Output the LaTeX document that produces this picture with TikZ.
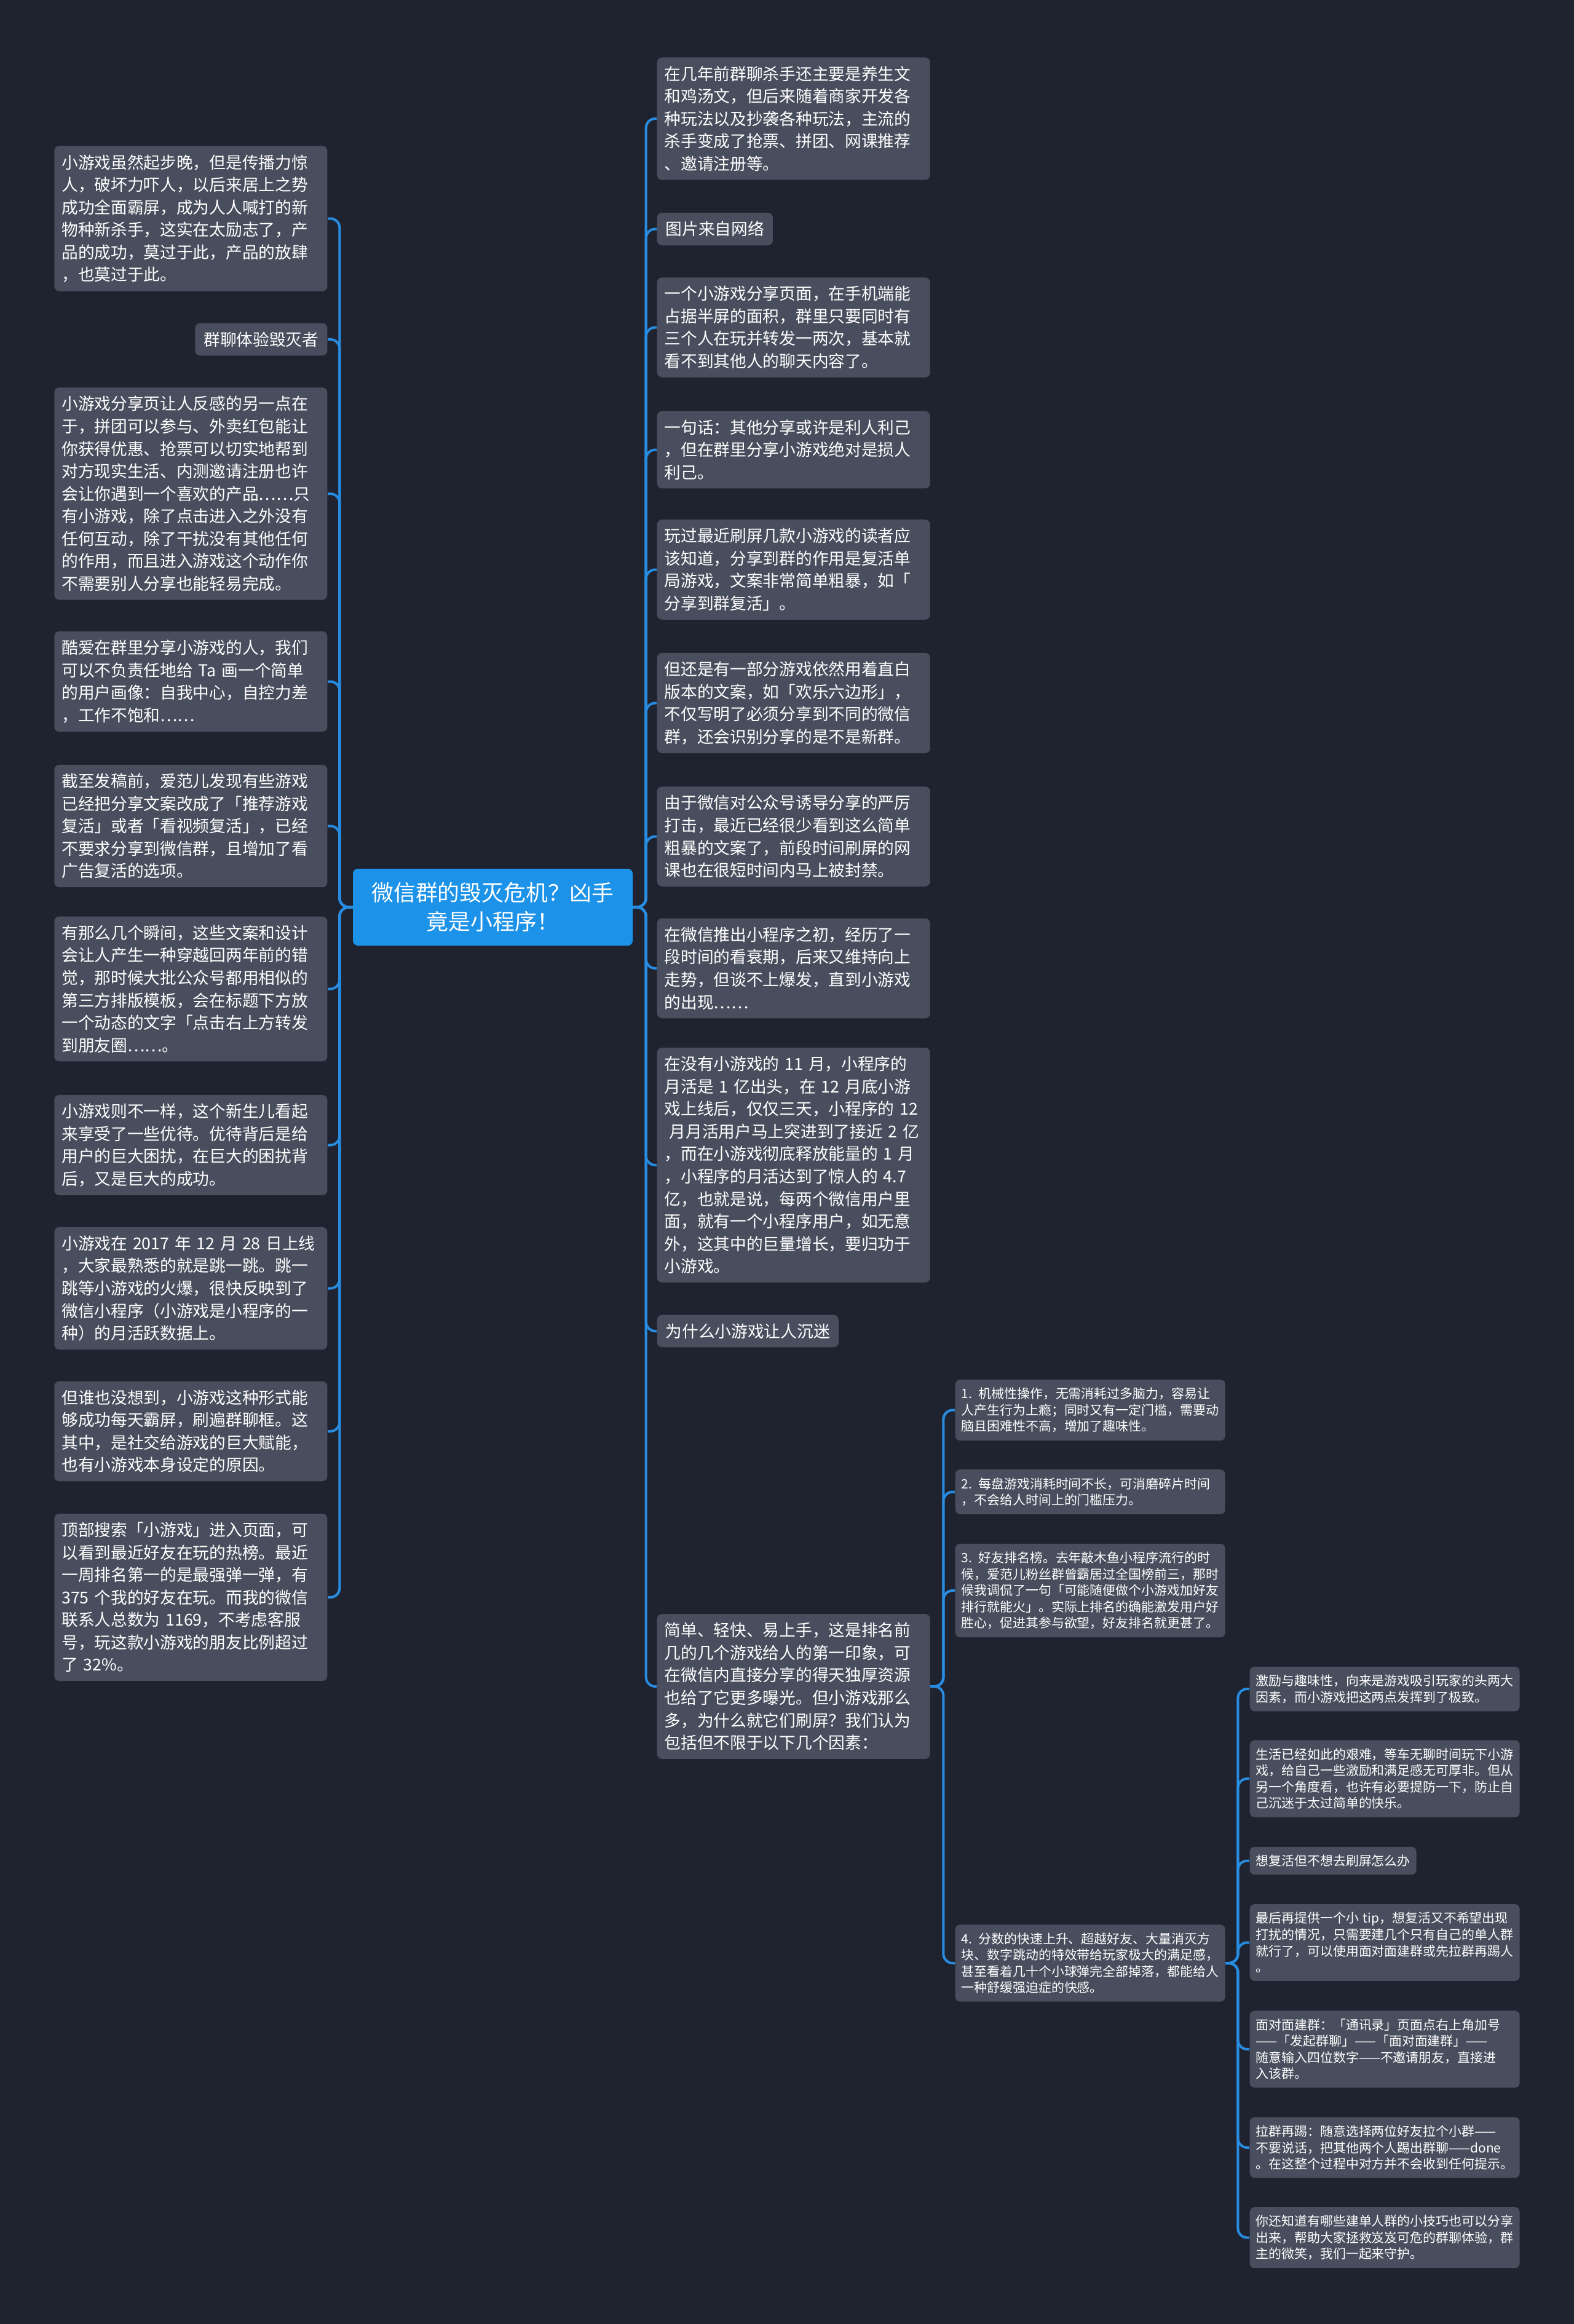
\documentclass[tikz,border=0pt]{standalone}
\usepackage{fontspec}
\setmainfont{Noto Sans CJK SC}
\usepackage{xcolor}

\definecolor{bgnavy}{RGB}{31,35,48}
\definecolor{boxgray}{RGB}{72,78,93}
\definecolor{rootblue}{RGB}{28,146,232}
\definecolor{linkblue}{RGB}{40,140,225}

\begin{document}
\begin{tikzpicture}[
  topic/.style={fill=boxgray,text=white,rounded corners=0.08cm,inner xsep=0.14cm,inner ysep=0.14cm,align=left,font=\fontsize{7.6pt}{10.4pt}\selectfont},
  widetopic/.style={topic,inner xsep=0.12cm,text width=4.2cm},
  subtopic/.style={fill=boxgray,text=white,rounded corners=0.08cm,inner xsep=0.1cm,inner ysep=0.13cm,align=left,font=\fontsize{5.95pt}{7.57pt}\selectfont},
  widesub/.style={subtopic,text width=4.19cm},
  link/.style={draw=linkblue,line width=0.04cm,rounded corners=0.15cm}
]
\fill[bgnavy](0,0)rectangle(25.6,-37.8);
\useasboundingbox(0,0)rectangle(25.6,-37.8);

% centre
\node[fill=rootblue,text=white,rounded corners=0.08cm,align=center,minimum width=4.55cm,minimum height=1.25cm,inner sep=0pt,font=\fontsize{10.2pt}{13.3pt}\selectfont](root)at(8.015,-14.755){微信群的毁灭危机？凶手\\竟是小程序！};

% left branch
\node[widetopic,anchor=east](l1)at(5.33,-3.555){小游戏虽然起步晚，但是传播力惊\\人，破坏力吓人，以后来居上之势\\成功全面霸屏，成为人人喊打的新\\物种新杀手，这实在太励志了，产\\品的成功，莫过于此，产品的放肆\\，也莫过于此。};
\node[topic,anchor=east](l2)at(5.33,-5.52){群聊体验毁灭者};
\node[widetopic,anchor=east](l3)at(5.33,-8.03){小游戏分享页让人反感的另一点在\\于，拼团可以参与、外卖红包能让\\你获得优惠、抢票可以切实地帮到\\对方现实生活、内测邀请注册也许\\会让你遇到一个喜欢的产品……只\\有小游戏，除了点击进入之外没有\\任何互动，除了干扰没有其他任何\\的作用，而且进入游戏这个动作你\\不需要别人分享也能轻易完成。};
\node[widetopic,anchor=east](l4)at(5.33,-11.085){酷爱在群里分享小游戏的人，我们\\可以不负责任地给 Ta 画一个简单\\的用户画像：自我中心，自控力差\\，工作不饱和……};
\node[widetopic,anchor=east](l5)at(5.33,-13.435){截至发稿前，爱范儿发现有些游戏\\已经把分享文案改成了「推荐游戏\\复活」或者「看视频复活」，已经\\不要求分享到微信群，且增加了看\\广告复活的选项。};
\node[widetopic,anchor=east](l6)at(5.33,-16.085){有那么几个瞬间，这些文案和设计\\会让人产生一种穿越回两年前的错\\觉，那时候大批公众号都用相似的\\第三方排版模板，会在标题下方放\\一个动态的文字「点击右上方转发\\到朋友圈……。};
\node[widetopic,anchor=east](l7)at(5.33,-18.625){小游戏则不一样，这个新生儿看起\\来享受了一些优待。优待背后是给\\用户的巨大困扰，在巨大的困扰背\\后，又是巨大的成功。};
\node[widetopic,anchor=east](l8)at(5.33,-20.955){小游戏在 2017 年 12 月 28 日上线\\，大家最熟悉的就是跳一跳。跳一\\跳等小游戏的火爆，很快反映到了\\微信小程序（小游戏是小程序的一\\种）的月活跃数据上。};
\node[widetopic,anchor=east](l9)at(5.33,-23.28){但谁也没想到，小游戏这种形式能\\够成功每天霸屏，刷遍群聊框。这\\其中，是社交给游戏的巨大赋能，\\也有小游戏本身设定的原因。};
\node[widetopic,anchor=east](l10)at(5.33,-25.98){顶部搜索「小游戏」进入页面，可\\以看到最近好友在玩的热榜。最近\\一周排名第一的是最强弹一弹，有\\375 个我的好友在玩。而我的微信\\联系人总数为 1169，不考虑客服\\号，玩这款小游戏的朋友比例超过\\了 32\%。};

% right branch
\node[widetopic,anchor=west](r1)at(10.68,-1.93){在几年前群聊杀手还主要是养生文\\和鸡汤文，但后来随着商家开发各\\种玩法以及抄袭各种玩法，主流的\\杀手变成了抢票、拼团、网课推荐\\、邀请注册等。};
\node[topic,anchor=west](r2)at(10.68,-3.725){图片来自网络};
\node[widetopic,anchor=west](r3)at(10.68,-5.325){一个小游戏分享页面，在手机端能\\占据半屏的面积，群里只要同时有\\三个人在玩并转发一两次，基本就\\看不到其他人的聊天内容了。};
\node[widetopic,anchor=west](r4)at(10.68,-7.315){一句话：其他分享或许是利人利己\\，但在群里分享小游戏绝对是损人\\利己。};
\node[widetopic,anchor=west](r5)at(10.68,-9.265){玩过最近刷屏几款小游戏的读者应\\该知道，分享到群的作用是复活单\\局游戏，文案非常简单粗暴，如「\\分享到群复活」。};
\node[widetopic,anchor=west](r6)at(10.68,-11.435){但还是有一部分游戏依然用着直白\\版本的文案，如「欢乐六边形」，\\不仅写明了必须分享到不同的微信\\群，还会识别分享的是不是新群。};
\node[widetopic,anchor=west](r7)at(10.68,-13.605){由于微信对公众号诱导分享的严厉\\打击，最近已经很少看到这么简单\\粗暴的文案了，前段时间刷屏的网\\课也在很短时间内马上被封禁。};
\node[widetopic,anchor=west](r8)at(10.68,-15.75){在微信推出小程序之初，经历了一\\段时间的看衰期，后来又维持向上\\走势，但谈不上爆发，直到小游戏\\的出现……};
\node[widetopic,anchor=west](r9)at(10.68,-18.95){在没有小游戏的 11 月，小程序的\\月活是 1 亿出头，在 12 月底小游\\戏上线后，仅仅三天，小程序的 12\\\hspace*{0.3em}月月活用户马上突进到了接近 2 亿\\，而在小游戏彻底释放能量的 1 月\\，小程序的月活达到了惊人的 4.7\\亿，也就是说，每两个微信用户里\\面，就有一个小程序用户，如无意\\外，这其中的巨量增长，要归功于\\小游戏。};
\node[topic,anchor=west](r10)at(10.68,-21.65){为什么小游戏让人沉迷};
\node[widetopic,anchor=west](r11)at(10.68,-27.43){简单、轻快、易上手，这是排名前\\几的几个游戏给人的第一印象，可\\在微信内直接分享的得天独厚资源\\也给了它更多曝光。但小游戏那么\\多，为什么就它们刷屏？我们认为\\包括但不限于以下几个因素：};

% factors
\node[widesub,anchor=west](s1)at(15.53,-22.935){1. 机械性操作，无需消耗过多脑力，容易让\\人产生行为上瘾；同时又有一定门槛，需要动\\脑且困难性不高，增加了趣味性。};
\node[widesub,anchor=west](s2)at(15.53,-24.265){2. 每盘游戏消耗时间不长，可消磨碎片时间\\，不会给人时间上的门槛压力。};
\node[widesub,anchor=west](s3)at(15.53,-25.87){3. 好友排名榜。去年敲木鱼小程序流行的时\\候，爱范儿粉丝群曾霸居过全国榜前三，那时\\候我调侃了一句「可能随便做个小游戏加好友\\排行就能火」。实际上排名的确能激发用户好\\胜心，促进其参与欲望，好友排名就更甚了。};
\node[widesub,anchor=west](s4)at(15.53,-31.93){4. 分数的快速上升、超越好友、大量消灭方\\块、数字跳动的特效带给玩家极大的满足感，\\甚至看着几十个小球弹完全部掉落，都能给人\\一种舒缓强迫症的快感。};

% tips under factor 4
\node[widesub,anchor=west](t1)at(20.32,-27.47){激励与趣味性，向来是游戏吸引玩家的头两大\\因素，而小游戏把这两点发挥到了极致。};
\node[widesub,anchor=west](t2)at(20.32,-28.93){生活已经如此的艰难，等车无聊时间玩下小游\\戏，给自己一些激励和满足感无可厚非。但从\\另一个角度看，也许有必要提防一下，防止自\\己沉迷于太过简单的快乐。};
\node[subtopic,anchor=west](t3)at(20.32,-30.265){想复活但不想去刷屏怎么办};
\node[widesub,anchor=west](t4)at(20.32,-31.595){最后再提供一个小 tip，想复活又不希望出现\\打扰的情况，只需要建几个只有自己的单人群\\就行了，可以使用面对面建群或先拉群再踢人\\。};
\node[widesub,anchor=west](t5)at(20.32,-33.33){面对面建群：「通讯录」页面点右上角加号\\——「发起群聊」——「面对面建群」——\\随意输入四位数字——不邀请朋友，直接进\\入该群。};
\node[widesub,anchor=west](t6)at(20.32,-34.93){拉群再踢：随意选择两位好友拉个小群——\\不要说话，把其他两个人踢出群聊——done\\。在这整个过程中对方并不会收到任何提示。};
\node[widesub,anchor=west](t7)at(20.32,-36.395){你还知道有哪些建单人群的小技巧也可以分享\\出来，帮助大家拯救岌岌可危的群聊体验，群\\主的微笑，我们一起来守护。};

% connectors
\foreach \n in {l1,l2,l3,l4,l5,l6,l7,l8,l9,l10}
  \draw[link](root.west)--++(-0.21,0)|-(\n.east);
\foreach \n in {r1,r2,r3,r4,r5,r6,r7,r8,r9,r10,r11}
  \draw[link](root.east)--++(0.21,0)|-(\n.west);
\foreach \n in {s1,s2,s3,s4}
  \draw[link](r11.east)--++(0.21,0)|-(\n.west);
\foreach \n in {t1,t2,t3,t4,t5,t6,t7}
  \draw[link](s4.east)--++(0.2,0)|-(\n.west);
\end{tikzpicture}
\end{document}
